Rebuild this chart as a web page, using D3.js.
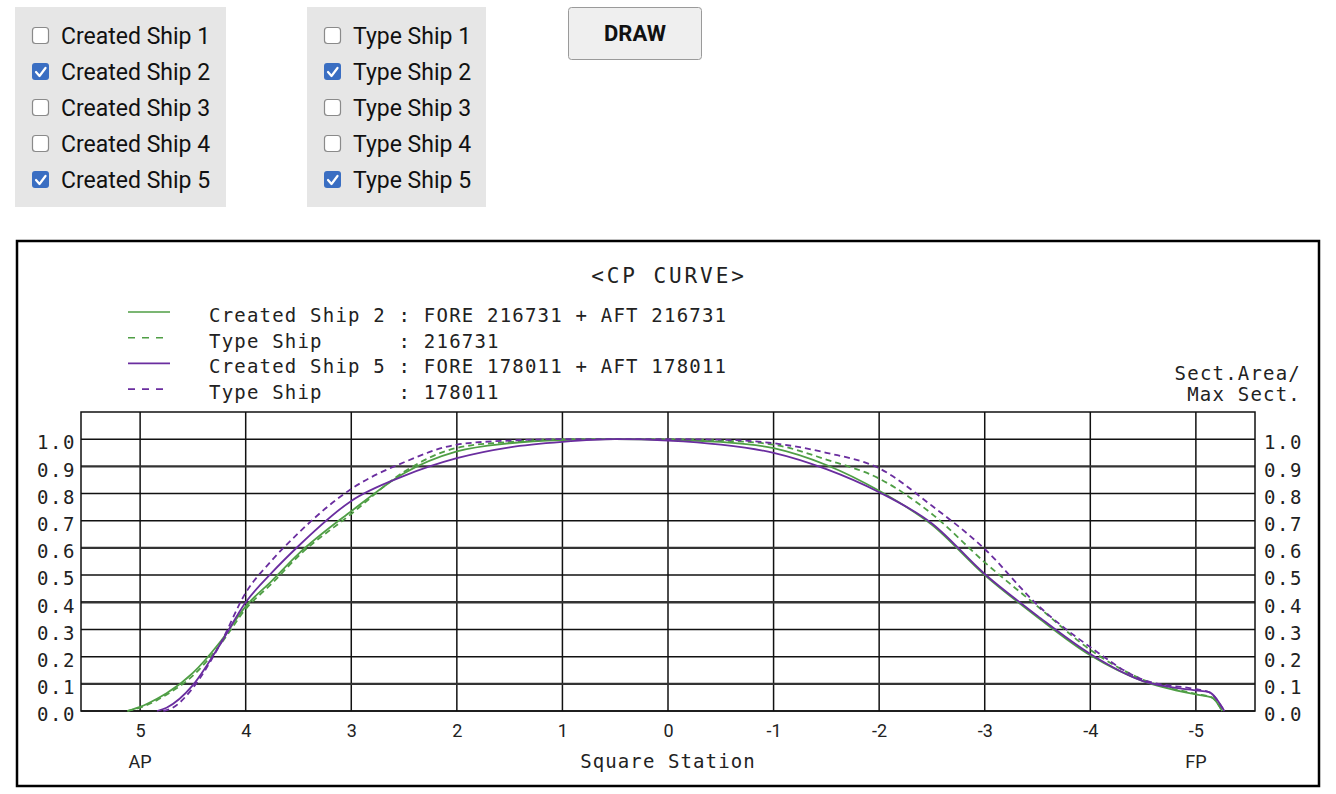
<!DOCTYPE html>
<html><head><meta charset="utf-8">
<script src="https://cdn.jsdelivr.net/npm/d3@7"></script>
<style>
html,body{margin:0;padding:0;background:#fff;}
svg{display:block;}
</style></head>
<body>
<svg id="chart" width="1336" height="794"></svg>
<script>
// ---------- data ----------
const createdShips = ["Created Ship 1","Created Ship 2","Created Ship 3","Created Ship 4","Created Ship 5"];
const typeShips = ["Type Ship 1","Type Ship 2","Type Ship 3","Type Ship 4","Type Ship 5"];
const createdChecked = [false,true,false,false,true];
const typeChecked = [false,true,false,false,true];

const stationTicks = [5,4,3,2,1,0,-1,-2,-3,-4,-5];
const cpTicks = [0,0.1,0.2,0.3,0.4,0.5,0.6,0.7,0.8,0.9,1.0];

const cs2Stations = [5.12,5.0,4.84,4.75,4.5,4.25,4.0,3.75,3.5,3.0,2.5,2.0,1.5,1.0,0.5,0,-0.5,-1.0,-1.5,-2.0,-2.5,-3.0,-3.5,-4.0,-4.5,-5.0,-5.15,-5.25];
const cs2Values   = [0,0.015,0.045,0.065,0.14,0.25,0.385,0.48,0.578,0.735,0.875,0.955,0.985,0.997,1.0,0.997,0.99,0.967,0.905,0.81,0.685,0.50,0.345,0.205,0.11,0.061,0.05,0];

const ts2Stations = [5.12,5.0,4.84,4.75,4.5,4.25,4.0,3.75,3.5,3.0,2.5,2.0,1.5,1.0,0.5,0,-0.5,-1.0,-1.5,-2.0,-2.5,-3.0,-3.5,-4.0,-4.5,-5.0,-5.15,-5.25];
const ts2Values   = [0,0.012,0.04,0.06,0.13,0.24,0.375,0.47,0.57,0.725,0.88,0.968,0.99,1.0,1.0,1.0,0.995,0.98,0.925,0.855,0.725,0.547,0.385,0.225,0.115,0.063,0.05,0];

const cs5Stations = [4.84,4.75,4.5,4.25,4.0,3.75,3.5,3.0,2.5,2.0,1.5,1.0,0.5,0,-0.5,-1.0,-1.5,-2.0,-2.5,-3.0,-3.5,-4.0,-4.5,-5.0,-5.12,-5.27];
const cs5Values   = [0,0.012,0.095,0.24,0.40,0.51,0.607,0.773,0.865,0.93,0.97,0.99,1.0,0.995,0.98,0.95,0.89,0.805,0.69,0.504,0.35,0.21,0.11,0.076,0.07,0];

const ts5Stations = [4.78,4.7,4.5,4.25,4.0,3.75,3.5,3.0,2.5,2.0,1.5,1.0,0.5,0,-0.5,-1.0,-1.5,-2.0,-2.5,-3.0,-3.5,-4.0,-4.5,-5.0,-5.12,-5.27];
const ts5Values   = [0,0.01,0.085,0.24,0.435,0.555,0.655,0.817,0.915,0.98,0.995,1.0,1.0,1.0,0.998,0.985,0.95,0.893,0.755,0.596,0.39,0.235,0.115,0.08,0.07,0];

const legendLabels = [
  "Created Ship 2 : FORE 216731 + AFT 216731",
  "Type Ship      : 216731",
  "Created Ship 5 : FORE 178011 + AFT 178011",
  "Type Ship      : 178011"
];

(function () {
// ---------- styles ----------
const GREEN = "#4f9e45", PURPLE = "#6a2d9f";
const MONO = "'DejaVu Sans Mono', 'Liberation Mono', monospace";
const SANS = "Roboto, 'Liberation Sans', Arial, sans-serif";

const series = [
  {st: cs2Stations, v: cs2Values, color: GREEN, dash: null},
  {st: ts2Stations, v: ts2Values, color: GREEN, dash: "6,4"},
  {st: cs5Stations, v: cs5Values, color: PURPLE, dash: null},
  {st: ts5Stations, v: ts5Values, color: PURPLE, dash: "6,4"}
];

const svg = d3.select("#chart");

// ---------- controls ----------
function panel(x0, w, labels, checked) {
  const g = svg.append("g");
  g.append("rect").attr("x", x0).attr("y", 7).attr("width", w).attr("height", 200).attr("fill", "#e6e6e6");
  labels.forEach((lab, i) => {
    const cy = 36 + i * 36;
    if (checked[i]) {
      g.append("rect").attr("x", x0 + 17).attr("y", cy - 9).attr("width", 17).attr("height", 17)
        .attr("rx", 3).attr("fill", "#3a6ec2");
      g.append("path").attr("d", `M${x0+21},${cy} l3.5,4 l6,-8`).attr("fill", "none")
        .attr("stroke", "#fff").attr("stroke-width", 2.2).attr("stroke-linecap", "round").attr("stroke-linejoin","round");
    } else {
      g.append("rect").attr("x", x0 + 17.5).attr("y", cy - 8.5).attr("width", 16).attr("height", 16)
        .attr("rx", 3).attr("fill", "#fff").attr("stroke", "#8a8a8a").attr("stroke-width", 1.2);
    }
    g.append("text").attr("x", x0 + 46).attr("y", cy + 8).text(lab)
      .attr("font-family", SANS).attr("font-size", 23).attr("fill", "#111");
  });
}
panel(15, 211, createdShips, createdChecked);
panel(307, 179, typeShips, typeChecked);

svg.append("rect").attr("x", 568.5).attr("y", 7.5).attr("width", 133).attr("height", 52).attr("rx", 3)
  .attr("fill", "#efefef").attr("stroke", "#9a9a9a");
svg.append("text").attr("x", 635).attr("y", 41).attr("text-anchor", "middle").text("DRAW")
  .attr("font-family", SANS).attr("font-weight", 700).attr("font-size", 22).attr("fill", "#111");

// ---------- chart frame ----------
svg.append("rect").attr("x", 17).attr("y", 241).attr("width", 1302).attr("height", 545)
  .attr("fill", "#fff").attr("stroke", "#000").attr("stroke-width", 2.5);

const pLeft = 81, pRight = 1255, pTop = 412, pBottom = 711;
const x = d3.scaleLinear().domain([5.56, -5.56]).range([pLeft, pRight]);
const y = d3.scaleLinear().domain([0, 1.1]).range([pBottom, pTop]);

// grid
const grid = svg.append("g");
grid.selectAll("line.v").data(stationTicks).join("line")
  .attr("x1", d => x(d)).attr("x2", d => x(d)).attr("y1", pTop).attr("y2", pBottom)
  .attr("stroke", "#111").attr("stroke-width", 1.5);
const thick = [0.1, 0.4, 0.6, 0.9];
const isThick = d => thick.some(t => Math.abs(t - d) < 1e-9);
grid.selectAll("line.h").data(cpTicks).join("line")
  .attr("x1", pLeft).attr("x2", pRight).attr("y1", d => y(d)).attr("y2", d => y(d))
  .attr("stroke", d => isThick(d) ? "#333" : "#111")
  .attr("stroke-width", d => isThick(d) ? 2.3 : 1.5);
svg.append("rect").attr("x", pLeft).attr("y", pTop).attr("width", pRight - pLeft).attr("height", pBottom - pTop)
  .attr("fill", "none").attr("stroke", "#111").attr("stroke-width", 1.5);

// axes labels via d3 axes
const fmt = d3.format(".1f");
const yl = svg.append("g").attr("transform", `translate(${pLeft - 7},0)`)
  .call(d3.axisLeft(y).tickValues(cpTicks).tickFormat(fmt).tickSize(0).tickPadding(0));
const yr = svg.append("g").attr("transform", `translate(${pRight + 9},0)`)
  .call(d3.axisRight(y).tickValues(cpTicks).tickFormat(fmt).tickSize(0).tickPadding(0));
[yl, yr].forEach(g => {
  g.select(".domain").remove();
  g.selectAll("text").attr("font-family", MONO).attr("font-size", 19).attr("font-weight", 500)
    .attr("letter-spacing", "1.6px").attr("fill", "#222").attr("dy", "0.62em").attr("y", -2);
});
yl.selectAll("text").attr("x", 2);

const xa = svg.append("g").attr("transform", `translate(0,${pBottom + 8})`)
  .call(d3.axisBottom(x).tickValues(stationTicks).tickFormat(d => String(d)).tickSize(0).tickPadding(0));
xa.select(".domain").remove();
xa.selectAll("text").attr("font-family", SANS).attr("font-size", 18).attr("fill", "#222").attr("dy", "1.0em");

svg.append("text").attr("x", x(5)).attr("y", 768).attr("text-anchor", "middle").text("AP")
  .attr("font-family", SANS).attr("font-size", 18).attr("fill", "#222");
svg.append("text").attr("x", x(-5)).attr("y", 768).attr("text-anchor", "middle").text("FP")
  .attr("font-family", SANS).attr("font-size", 18).attr("fill", "#222");
svg.append("text").attr("x", x(0)).attr("y", 768).attr("text-anchor", "middle").text("Square Station")
  .attr("font-family", MONO).attr("font-size", 19).attr("letter-spacing", "1.1px").attr("fill", "#222");

// title
svg.append("text").attr("x", 669).attr("y", 283).attr("text-anchor", "middle").text("<CP CURVE>")
  .attr("font-family", MONO).attr("font-size", 21).attr("letter-spacing", "2.9px").attr("fill", "#222");

svg.append("text").attr("x", 1301).attr("y", 380).attr("text-anchor", "end").text("Sect.Area/")
  .attr("font-family", MONO).attr("font-size", 19).attr("letter-spacing", "1.2px").attr("fill", "#222");
svg.append("text").attr("x", 1301).attr("y", 401).attr("text-anchor", "end").text("Max Sect.")
  .attr("font-family", MONO).attr("font-size", 19).attr("letter-spacing", "1.2px").attr("fill", "#222");

// legend
const lg = svg.append("g");
legendLabels.forEach((lab, i) => {
  const ly = 312 + i * 25.7;
  const s = series[i];
  lg.append("line").attr("x1", 128).attr("x2", 170).attr("y1", ly).attr("y2", ly)
    .attr("stroke", s.color).attr("stroke-width", 1.6).attr("stroke-dasharray", s.dash ? "7,7" : null);
  lg.append("text").attr("x", 209).attr("y", ly + 10).text(lab)
    .attr("font-family", MONO).attr("font-size", 19).attr("letter-spacing", "1.2px")
    .attr("fill", "#222").style("white-space", "pre");
});

// curves
const line = d3.line().x(d => x(d[0])).y(d => y(d[1])).curve(d3.curveMonotoneX);
series.forEach(s => {
  const pts = s.st.map((st, i) => [st, s.v[i]]);
  svg.append("path").attr("d", line(pts)).attr("fill", "none")
    .attr("stroke", s.color).attr("stroke-width", 1.8)
    .attr("stroke-dasharray", s.dash);
});
})();
</script>
</body></html>
